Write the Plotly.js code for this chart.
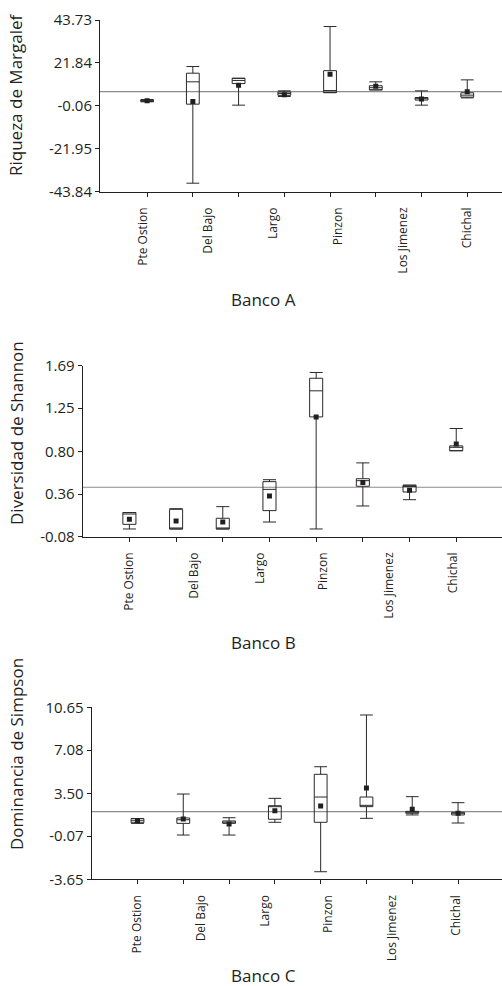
<!DOCTYPE html>
<html>
<head>
<meta charset="utf-8">
<script src="https://cdn.plot.ly/plotly-3.0.1.min.js"></script>
<style>html,body{margin:0;padding:0;background:#fff;}#chart{width:502px;height:986px;}</style>
</head>
<body>
<div id="chart"></div>
<script>
// ---------- DATA ----------
const stations = ['Pte Ostion', 'Del Bajo', 'Largo', 'Pinzon', 'Los Jimenez', 'Chichal'];
const boxPos = [1, 2, 3, 4, 5, 6, 7, 8];
const labelPosA = [0.91, 2.33, 3.75, 5.17, 6.59, 8.0];
const labelPosB = [1.0, 2.39, 3.79, 5.15, 6.56, 7.93];
const labelPosC = [1.0, 2.38, 3.79, 5.16, 6.56, 7.96];

// Banco A - Riqueza de Margalef
const margalefLower  = [2.0, -39.5, 0.3, 4.7, 6.7, 8.1, 0.3, 4.0];
const margalefQ1     = [2.2, 0.8, 11.3, 5.3, 6.7, 8.1, 2.9, 4.4];
const margalefMedian = [2.6, 12.2, 12.9, 6.2, 7.75, 9.2, 3.6, 5.4];
const margalefQ3     = [3.0, 16.6, 14.0, 7.0, 17.9, 10.2, 4.2, 6.6];
const margalefUpper  = [3.2, 20.0, 14.0, 7.6, 40.4, 12.2, 7.6, 13.2];
const margalefMean   = [2.6, 2.1, 10.5, 5.6, 16.1, 10.0, 3.5, 7.1];
const margalefRef = 7.24;
const margalefTicks = [-43.84, -21.95, -0.06, 21.84, 43.73];
const margalefTickText = ['-43.84', '-21.95', '-0.06', '21.84', '43.73'];

// Banco B - Diversidad de Shannon
const shannonLower  = [0.0, 0.0, 0.0, 0.072, 0.0, 0.238, 0.303, 0.81];
const shannonQ1     = [0.048, 0.0, 0.0, 0.19, 1.16, 0.442, 0.383, 0.81];
const shannonMedian = [0.155, 0.004, 0.004, 0.41, 1.43, 0.50, 0.44, 0.845];
const shannonQ3     = [0.17, 0.204, 0.111, 0.49, 1.56, 0.52, 0.453, 0.86];
const shannonUpper  = [0.17, 0.21, 0.231, 0.51, 1.62, 0.684, 0.453, 1.04];
const shannonMean   = [0.10, 0.083, 0.072, 0.34, 1.16, 0.48, 0.40, 0.88];
const shannonRef = 0.432;
const shannonTicks = [-0.08, 0.36, 0.80, 1.25, 1.69];
const shannonTickText = ['-0.08', '0.36', '0.80', '1.25', '1.69'];

// Banco C - Dominancia de Simpson
const simpsonLower  = [1.0, 0.03, 0.03, 1.09, -3.02, 1.42, 1.7, 1.03];
const simpsonQ1     = [1.05, 1.0, 1.0, 1.34, 1.09, 2.39, 1.84, 1.70];
const simpsonMedian = [1.22, 1.3, 1.1, 2.39, 3.19, 2.5, 1.95, 1.84];
const simpsonQ3     = [1.39, 1.45, 1.2, 2.47, 5.08, 3.19, 2.0, 1.92];
const simpsonUpper  = [1.4, 3.44, 1.47, 3.08, 5.71, 10.01, 3.22, 2.72];
const simpsonMean   = [1.22, 1.36, 0.95, 2.05, 2.44, 3.94, 2.17, 1.84];
const simpsonRef = 1.97;
const simpsonTicks = [-3.65, -0.07, 3.50, 7.08, 10.65];
const simpsonTickText = ['-3.65', '-0.07', '3.50', '7.08', '10.65'];

// ---------- STYLE / LAYOUT ----------
const W = 502, H = 986;
const FONT = '"Open Sans", "Noto Sans", sans-serif';
const INK = '#231f20';

const panels = [
  { id: 1, lab: 4, title: 'Riqueza de Margalef', banco: 'Banco A',
    lower: margalefLower, q1: margalefQ1, med: margalefMedian, q3: margalefQ3, upper: margalefUpper, mean: margalefMean,
    ref: margalefRef, ticks: margalefTicks, tickText: margalefTickText, labelPos: labelPosA,
    axisX: 100, top: 20, bottom: 191.7, xr: [-0.03, 8.76], titleY: 95, bancoY: 299 },
  { id: 2, lab: 5, title: 'Diversidad de Shannon', banco: 'Banco B',
    lower: shannonLower, q1: shannonQ1, med: shannonMedian, q3: shannonQ3, upper: shannonUpper, mean: shannonMean,
    ref: shannonRef, ticks: shannonTicks, tickText: shannonTickText, labelPos: labelPosB,
    axisX: 82.7, top: 365.7, bottom: 536.7, xr: [0.0, 8.98], titleY: 433, bancoY: 642 },
  { id: 3, lab: 6, title: 'Dominancia de Simpson', banco: 'Banco C',
    lower: simpsonLower, q1: simpsonQ1, med: simpsonMedian, q3: simpsonQ3, upper: simpsonUpper, mean: simpsonMean,
    ref: simpsonRef, ticks: simpsonTicks, tickText: simpsonTickText, labelPos: labelPosC,
    axisX: 91.7, top: 707.3, bottom: 879.3, xr: [0.0, 8.96], titleY: 754, bancoY: 975 }
];

const data = [];
const layout = {
  width: W, height: H,
  margin: { l: 0, r: 0, t: 0, b: 0 },
  paper_bgcolor: '#fff', plot_bgcolor: 'rgba(0,0,0,0)',
  showlegend: false,
  font: { family: FONT, color: INK },
  shapes: [], annotations: []
};

panels.forEach(p => {
  const xa = 'x' + (p.id === 1 ? '' : p.id);
  const ya = 'y' + (p.id === 1 ? '' : p.id);
  const xl = 'x' + p.lab;
  const xDom = [p.axisX / W, 1];
  const yDom = [(H - p.bottom) / H, (H - p.top) / H];

  data.push({
    type: 'box', xaxis: xa, yaxis: ya,
    x: boxPos, q1: p.q1, median: p.med, q3: p.q3,
    lowerfence: p.lower, upperfence: p.upper,
    boxpoints: false, width: 0.28, whiskerwidth: 1,
    line: { color: '#2a2a2a', width: 1 }, fillcolor: 'rgba(255,255,255,0)',
    hoverinfo: 'skip'
  });
  data.push({
    type: 'scatter', mode: 'markers', xaxis: xa, yaxis: ya,
    x: boxPos, y: p.mean,
    marker: { symbol: 'square', size: 5, color: INK },
    hoverinfo: 'skip'
  });
  // dummy trace so the label overlay axis is drawn
  data.push({ type: 'scatter', mode: 'markers', xaxis: xl, yaxis: ya, x: [p.labelPos[0]], y: [null], hoverinfo: 'skip' });

  layout['xaxis' + (p.id === 1 ? '' : p.id)] = {
    domain: xDom, anchor: ya, range: p.xr,
    showline: true, linecolor: INK, linewidth: 1,
    ticks: 'outside', ticklen: 4, tickcolor: INK, tickwidth: 1,
    tickvals: boxPos, showticklabels: false,
    showgrid: false, zeroline: false, fixedrange: true
  };
  layout['xaxis' + p.lab] = {
    domain: xDom, anchor: ya, overlaying: xa, range: p.xr,
    showline: false, ticks: 'outside', ticklen: 10, tickcolor: 'rgba(0,0,0,0)',
    tickvals: p.labelPos, ticktext: stations, tickangle: -90,
    tickfont: { family: FONT, size: 12, color: INK },
    showgrid: false, zeroline: false, fixedrange: true
  };
  layout['yaxis' + (p.id === 1 ? '' : p.id)] = {
    domain: yDom, anchor: xa, range: [p.ticks[0], p.ticks[p.ticks.length - 1]],
    showline: true, linecolor: INK, linewidth: 1,
    ticks: 'outside', ticklen: 4, tickcolor: INK, tickwidth: 1,
    tickvals: p.ticks, ticktext: p.tickText,
    tickfont: { family: FONT, size: 15, color: INK },
    showgrid: false, zeroline: false, fixedrange: true
  };
  layout.shapes.push({
    type: 'line', xref: xa + ' domain', yref: ya,
    x0: 0, x1: 1, y0: p.ref, y1: p.ref,
    line: { color: '#8c8c8c', width: 1.2 }, layer: 'below'
  });
  layout.annotations.push({
    xref: 'paper', yref: 'paper', x: 16 / W, y: (H - p.titleY) / H,
    text: p.title, textangle: -90, showarrow: false,
    xanchor: 'center', yanchor: 'middle',
    font: { family: FONT, size: 17, color: INK }
  });
  layout.annotations.push({
    xref: 'paper', yref: 'paper', x: 263 / W, y: (H - p.bancoY) / H,
    text: p.banco, showarrow: false, xanchor: 'center', yanchor: 'middle',
    font: { family: FONT, size: 17, color: INK }
  });
});

Plotly.newPlot('chart', data, layout, { staticPlot: true, displayModeBar: false });
</script>
</body>
</html>
